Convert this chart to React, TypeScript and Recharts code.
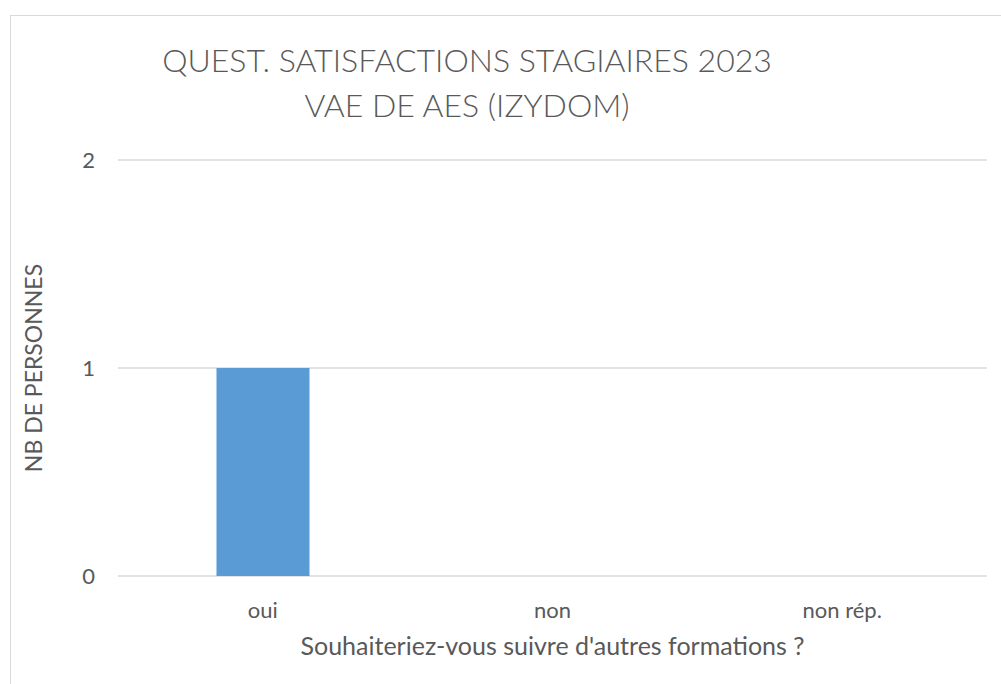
import React from 'react'
import { Bar, BarChart, CartesianGrid, Label, XAxis, YAxis } from 'recharts'

const categories = ['oui', 'non', 'non rép.']
const personnes = [1, 0, 0]
const yTicks = [0, 1, 2]

const titleLines = ['QUEST. SATISFACTIONS STAGIAIRES 2023', 'VAE DE AES (IZYDOM)']
const xTitle = "Souhaiteriez-vous suivre d'autres formations ?"
const yTitle = 'NB DE PERSONNES'

const data = categories.map((name, i) => ({ name, value: personnes[i] }))

const font = 'Lato, "Open Sans", sans-serif'
const textColor = '#595959'

const App = () => {
    return (
        <div style={{ position: 'absolute', left: 0, top: 0, width: 1001, height: 684, overflow: 'hidden', background: '#fff', fontFamily: font }}>
            <div style={{ position: 'absolute', left: 10, top: 15, width: 1000, height: 700, border: '1px solid #d9d9d9' }} />
            <div style={{ position: 'absolute', left: 0, top: 37, width: 934, textAlign: 'center', color: textColor, fontSize: 32, fontWeight: 300, lineHeight: '45px' }}>
                {titleLines.map((t) => <div key={t}>{t}</div>)}
            </div>
            <div style={{ position: 'absolute', left: 0, top: 0 }}>
                <BarChart width={1001} height={684} data={data}
                    margin={{ top: 160, right: 14, left: 0, bottom: 0 }} barCategoryGap="34%">
                    <CartesianGrid vertical={false} stroke="#d9d9d9" strokeWidth={1.3} />
                    <XAxis dataKey="name" height={108} axisLine={false} tickLine={false} tickSize={0} tickMargin={26}
                        tick={{ fill: textColor, fontSize: 22, fontFamily: font }}>
                        <Label value={xTitle} position="insideBottom" offset={29}
                            style={{ fill: textColor, fontSize: 25, fontFamily: font }} />
                    </XAxis>
                    <YAxis width={118} domain={[0, 2]} ticks={yTicks} axisLine={false} tickLine={false} tickSize={0} tickMargin={23}
                        tick={{ fill: textColor, fontSize: 22, fontFamily: font }}>
                        <Label value={yTitle} angle={-90} position="insideLeft" offset={34}
                            style={{ fill: textColor, fontSize: 23, fontFamily: font, textAnchor: 'middle' }} />
                    </YAxis>
                    <Bar dataKey="value" fill="#5b9bd5" isAnimationActive={false} />
                </BarChart>
            </div>
        </div>
    )
}

export default App
